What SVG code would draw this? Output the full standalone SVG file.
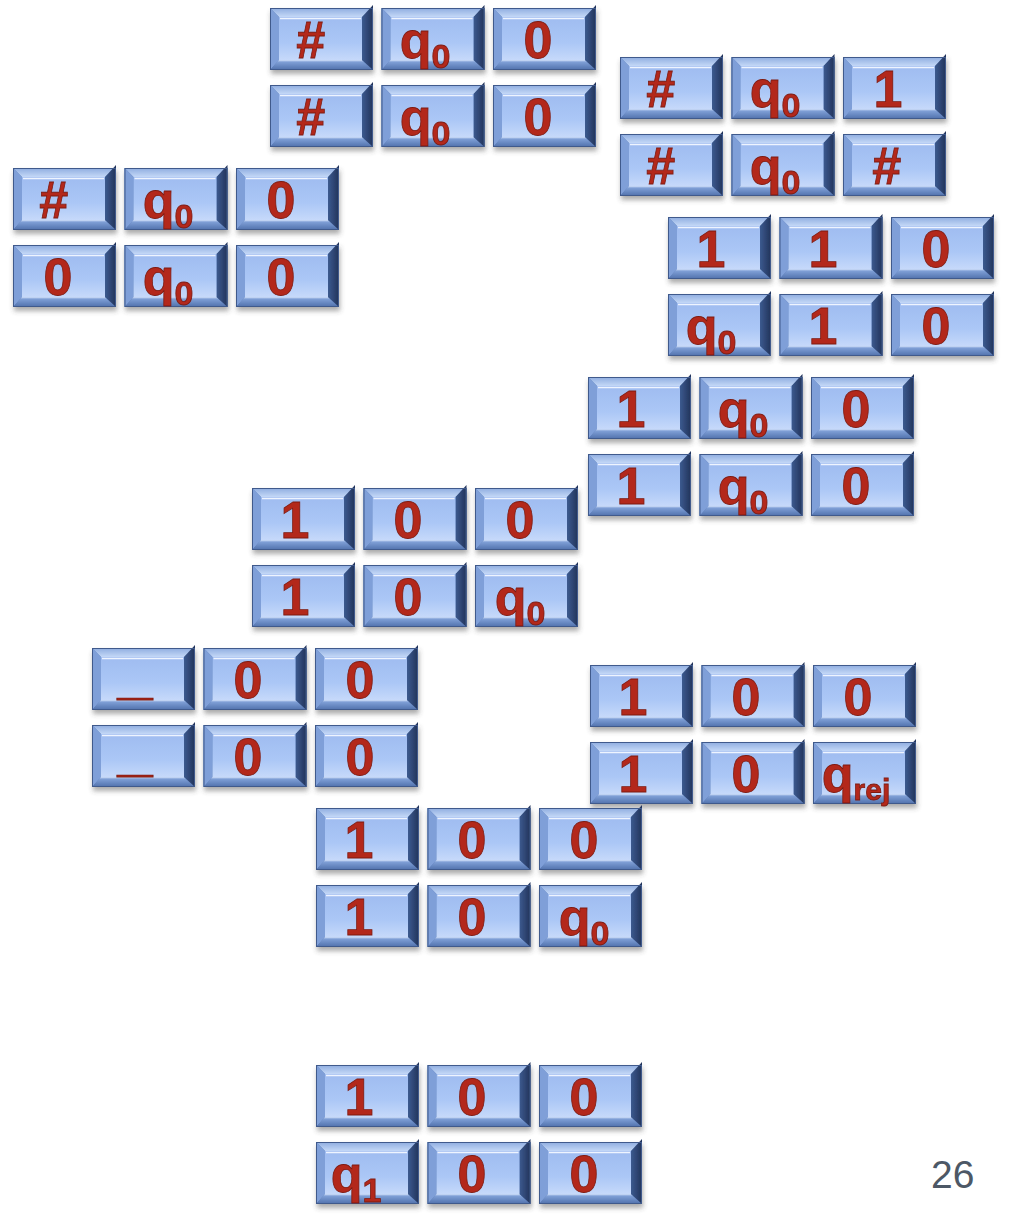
<svg xmlns="http://www.w3.org/2000/svg" xmlns:xlink="http://www.w3.org/1999/xlink" width="1009" height="1217" viewBox="0 0 1009 1217">
<defs>
<linearGradient id="gTop" x1="0" y1="0" x2="0" y2="1"><stop offset="0" stop-color="#8eacdf"/><stop offset="1" stop-color="#c4d8f7"/></linearGradient>
<linearGradient id="gRight" x1="1" y1="0" x2="0" y2="0"><stop offset="0" stop-color="#22335a"/><stop offset="1" stop-color="#3c5a8f"/></linearGradient>
<linearGradient id="gBot" x1="0" y1="0" x2="0" y2="1"><stop offset="0" stop-color="#d4e3fb"/><stop offset="0.2" stop-color="#7f9fd6"/><stop offset="1" stop-color="#4f70ab"/></linearGradient>
<linearGradient id="gFace" x1="0" y1="0" x2="0" y2="1"><stop offset="0" stop-color="#9fbcf0"/><stop offset="0.6" stop-color="#abc7f6"/><stop offset="1" stop-color="#c6d9fa"/></linearGradient>
<filter id="sh" x="-10%" y="-10%" width="125%" height="140%"><feDropShadow dx="1" dy="4" stdDeviation="2.5" flood-color="#444" flood-opacity="0.45"/></filter>
<g id="cell">
<rect x="0" y="0" width="103" height="62" fill="#5b7cb8"/>
<polygon points="0,0 103,0 92,9 9,9" fill="url(#gTop)"/>
<polygon points="0,0 9,9 9,52 0,62" fill="#7f9fd8"/>
<polygon points="0,62 103,62 92,52 9,52" fill="url(#gBot)"/>
<polygon points="103,-3 103,62 92,52 92,9" fill="url(#gRight)"/>
<rect x="9" y="9" width="83" height="43" fill="url(#gFace)"/>
<line x1="10" y1="10.5" x2="91" y2="10.5" stroke="#eef4ff" stroke-width="1.5"/>
<rect x="0.5" y="0.5" width="102" height="61" fill="none" stroke="#3f5a8c" stroke-width="1"/>
</g>
<g id="row"><use xlink:href="#cell" x="0" y="0"/><use xlink:href="#cell" x="111.5" y="0"/><use xlink:href="#cell" x="223" y="0"/></g>
<g id="tiles"><use xlink:href="#row" y="0"/><use xlink:href="#row" y="77"/></g>
</defs>
<style>
.t{font-family:"Liberation Sans","DejaVu Sans",sans-serif;font-weight:bold;font-size:52px;fill:#b3281b;stroke:#7d1a10;stroke-width:0.8;text-anchor:middle}
.h{font-style:italic}
.s{font-size:34px}
.r{font-size:30px}
.pg{font-family:"Liberation Sans","DejaVu Sans",sans-serif;font-size:39px;fill:#4d5866}
</style>
<rect width="1009" height="1217" fill="#ffffff"/>

<g id="d1" transform="translate(270,8)">
<use xlink:href="#tiles" filter="url(#sh)"/>
<text class="t h" x="40" y="50">#</text><text class="t" x="155" y="50">q<tspan class="s" dy="10">0</tspan></text><text class="t" x="268" y="50">0</text>
<text class="t h" x="40" y="127">#</text><text class="t" x="155" y="127">q<tspan class="s" dy="10">0</tspan></text><text class="t" x="268" y="127">0</text>
</g>

<g id="d2" transform="translate(620,57)">
<use xlink:href="#tiles" filter="url(#sh)"/>
<text class="t h" x="40" y="50">#</text><text class="t" x="155" y="50">q<tspan class="s" dy="10">0</tspan></text><text class="t" x="268" y="50">1</text>
<text class="t h" x="40" y="127">#</text><text class="t" x="155" y="127">q<tspan class="s" dy="10">0</tspan></text><text class="t h" x="266" y="127">#</text>
</g>

<g id="d3" transform="translate(13,168)">
<use xlink:href="#tiles" filter="url(#sh)"/>
<text class="t h" x="40" y="50">#</text><text class="t" x="155" y="50">q<tspan class="s" dy="10">0</tspan></text><text class="t" x="268" y="50">0</text>
<text class="t" x="45" y="127">0</text><text class="t" x="155" y="127">q<tspan class="s" dy="10">0</tspan></text><text class="t" x="268" y="127">0</text>
</g>

<g id="d4" transform="translate(668,217)">
<use xlink:href="#tiles" filter="url(#sh)"/>
<text class="t" x="43" y="50">1</text><text class="t" x="155" y="50">1</text><text class="t" x="268" y="50">0</text>
<text class="t" x="43" y="127">q<tspan class="s" dy="10">0</tspan></text><text class="t" x="155" y="127">1</text><text class="t" x="268" y="127">0</text>
</g>

<g id="d5" transform="translate(588,377)">
<use xlink:href="#tiles" filter="url(#sh)"/>
<text class="t" x="43" y="50">1</text><text class="t" x="155" y="50">q<tspan class="s" dy="10">0</tspan></text><text class="t" x="268" y="50">0</text>
<text class="t" x="43" y="127">1</text><text class="t" x="155" y="127">q<tspan class="s" dy="10">0</tspan></text><text class="t" x="268" y="127">0</text>
</g>

<g id="d6" transform="translate(252,488)">
<use xlink:href="#tiles" filter="url(#sh)"/>
<text class="t" x="43" y="50">1</text><text class="t" x="156" y="50">0</text><text class="t" x="268" y="50">0</text>
<text class="t" x="43" y="127">1</text><text class="t" x="156" y="127">0</text><text class="t" x="268" y="127">q<tspan class="s" dy="10">0</tspan></text>
</g>

<g id="d7" transform="translate(92,648)">
<use xlink:href="#tiles" filter="url(#sh)"/>
<text class="t" x="43" y="46" textLength="35" lengthAdjust="spacingAndGlyphs">_</text><text class="t" x="156" y="50">0</text><text class="t" x="268" y="50">0</text>
<text class="t" x="43" y="123" textLength="35" lengthAdjust="spacingAndGlyphs">_</text><text class="t" x="156" y="127">0</text><text class="t" x="268" y="127">0</text>
</g>

<g id="d8" transform="translate(590,665)">
<use xlink:href="#tiles" filter="url(#sh)"/>
<text class="t" x="43" y="50">1</text><text class="t" x="156" y="50">0</text><text class="t" x="268" y="50">0</text>
<text class="t" x="43" y="127">1</text><text class="t" x="156" y="127">0</text><text class="t" x="266" y="127">q<tspan class="r" dy="8">rej</tspan></text>
</g>

<g id="d9" transform="translate(316,808)">
<use xlink:href="#tiles" filter="url(#sh)"/>
<text class="t" x="43" y="50">1</text><text class="t" x="156" y="50">0</text><text class="t" x="268" y="50">0</text>
<text class="t" x="43" y="127">1</text><text class="t" x="156" y="127">0</text><text class="t" x="268" y="127">q<tspan class="s" dy="10">0</tspan></text>
</g>

<g id="d10" transform="translate(316,1065)">
<use xlink:href="#tiles" filter="url(#sh)"/>
<text class="t" x="43" y="50">1</text><text class="t" x="156" y="50">0</text><text class="t" x="268" y="50">0</text>
<text class="t" x="40" y="127">q<tspan class="s" dy="10">1</tspan></text><text class="t" x="156" y="127">0</text><text class="t" x="268" y="127">0</text>
</g>

<g id="connectors"></g>
<text class="pg" x="931" y="1188">26</text>
</svg>
